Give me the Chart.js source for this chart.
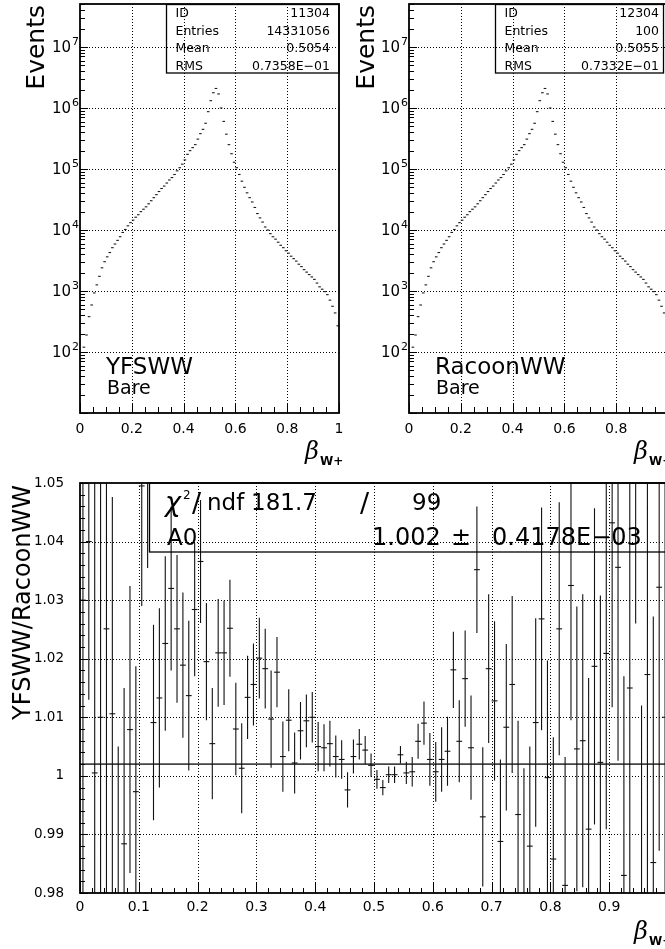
<!DOCTYPE html>
<html><head><meta charset="utf-8">
<script src="https://cdn.jsdelivr.net/npm/chart.js@4.4.1/dist/chart.umd.min.js"></script>
<style>
html,body{margin:0;padding:0;background:#fff;overflow:hidden;width:665px;height:949px;}
#wrap{position:relative;width:665px;height:949px;overflow:hidden;background:#fff;}
canvas{position:absolute;}
</style></head><body><div id="wrap">
<canvas id="c1" width="345" height="475" style="left:0;top:0;width:345px;height:475px"></canvas>
<canvas id="c2" width="345" height="475" style="left:330px;top:0;width:345px;height:475px"></canvas>
<canvas id="c3" width="675" height="474" style="left:0;top:475px;width:675px;height:474px"></canvas>
</div>
<script>
// ---------- DATA ----------
const bins = [0.005,0.015,0.025,0.035,0.045,0.055,0.065,0.075,0.085,0.095,
0.105,0.115,0.125,0.135,0.145,0.155,0.165,0.175,0.185,0.195,
0.205,0.215,0.225,0.235,0.245,0.255,0.265,0.275,0.285,0.295,
0.305,0.315,0.325,0.335,0.345,0.355,0.365,0.375,0.385,0.395,
0.405,0.415,0.425,0.435,0.445,0.455,0.465,0.475,0.485,0.495,
0.505,0.515,0.525,0.535,0.545,0.555,0.565,0.575,0.585,0.595,
0.605,0.615,0.625,0.635,0.645,0.655,0.665,0.675,0.685,0.695,
0.705,0.715,0.725,0.735,0.745,0.755,0.765,0.775,0.785,0.795,
0.805,0.815,0.825,0.835,0.845,0.855,0.865,0.875,0.885,0.895,
0.905,0.915,0.925,0.935,0.945,0.955,0.965,0.975,0.985,0.995];

const yfswwEvents = [78,120,190,380,590,930,1260,1740,2400,3020,
3630,4270,5130,5890,6760,7760,9120,10200,11700,13200,
14500,16200,17800,20000,21900,24000,26900,30200,33900,38000,
42700,47900,52500,58900,66100,72400,81300,93300,105000,120000,
141000,174000,200000,224000,251000,309000,380000,447000,562000,871000,
1320000,1780000,2090000,1700000,1000000,603000,372000,251000,178000,129000,
105000,81300,63100,50100,40700,33900,28800,23400,18600,15800,
13500,11200,10000,8710,7760,7080,6310,5620,5130,4570,
4170,3720,3390,3090,2750,2510,2240,2040,1860,1700,
1550,1350,1170,1070,977,871,708,562,437,269];

const racoonEvents = [78,120,190,380,590,930,1260,1740,2400,3020,
3630,4270,5130,5890,6760,7760,9120,10200,11700,13200,
14500,16200,17800,20000,21900,24000,26900,30200,33900,38000,
42700,47900,52500,58900,66100,72400,81300,93300,105000,120000,
141000,174000,200000,224000,251000,309000,380000,447000,562000,871000,
1320000,1780000,2090000,1700000,1000000,603000,372000,251000,178000,129000,
105000,81300,63100,50100,40700,33900,28800,23400,18600,15800,
13500,11200,10000,8710,7760,7080,6310,5620,5130,4570,
4170,3720,3390,3090,2750,2510,2240,2040,1860,1700,
1550,1350,1170,1070,977,871,708,562,437,269];

const ratioValues = [1.030,1.040,1.0005,1.0100,1.0251,1.0106,0.9750,0.9884,1.0079,0.9973,
1.0495,1.0560,1.0091,1.0133,1.0226,1.0320,1.0251,1.0189,1.0137,1.0284,
1.0366,1.0195,1.0055,1.0210,1.0210,1.0252,1.0080,1.0013,1.0134,1.0156,
1.0201,1.0183,1.0097,1.0177,1.0033,1.0095,1.0022,1.0077,1.0094,1.0100,
1.0050,1.0048,1.0055,1.0033,1.0028,0.9976,1.0033,1.0054,1.0044,1.0018,
0.9994,0.9980,1.0002,1.0002,1.0036,1.0005,1.0007,1.0059,1.0090,1.0028,
1.0007,1.0028,1.0042,1.0181,1.0059,1.0166,1.0048,1.0352,0.9930,1.0183,
1.0128,0.9888,1.0083,1.0156,0.9934,0.9780,0.9880,1.0091,1.0268,0.9997,
0.9858,1.0251,0.9813,1.0325,1.0046,1.0060,0.9909,1.0187,1.0023,1.0209,
1.0432,1.0356,0.9830,1.0150,1.0600,0.9760,1.0173,0.9852,1.0322,1.0100];

const ratioErrors = [0.070,0.027,0.060,0.050,0.050,0.037,0.030,0.0266,0.0245,0.0214,
0.0205,0.0205,0.0167,0.0153,0.0149,0.0140,0.0126,0.0124,0.0128,0.0114,
0.0105,0.0100,0.0095,0.0092,0.0089,0.0083,0.0079,0.0077,0.0071,0.0070,
0.0069,0.0068,0.0083,0.0060,0.0060,0.0053,0.0052,0.0049,0.0045,0.0043,
0.0042,0.0040,0.0039,0.0036,0.0033,0.0030,0.0029,0.0026,0.0024,0.0020,
0.0016,0.0013,0.0014,0.0014,0.0015,0.0019,0.0025,0.0030,0.0037,0.0045,
0.0051,0.0055,0.0059,0.0065,0.0070,0.0082,0.0089,0.0108,0.0119,0.0127,
0.0136,0.0140,0.0142,0.0151,0.0160,0.0233,0.0170,0.0178,0.0190,0.0200,
0.0208,0.0216,0.0219,0.0230,0.0243,0.0250,0.0258,0.0270,0.0285,0.0300,
0.0315,0.0330,0.0340,0.0360,0.0340,0.0360,0.0400,0.0420,0.0450,0.0500];

const fitA0 = 1.002;
const topXTicks = [0,0.2,0.4,0.6,0.8,1];
const logDecades = [2,3,4,5,6,7];
const statsYFSWW = [["ID","11304"],["Entries","14331056"],["Mean","0.5054"],["RMS","0.7358E\u221201"]];
const statsRacoon = [["ID","12304"],["Entries","100"],["Mean","0.5055"],["RMS","0.7332E\u221201"]];

// ---------- helpers ----------
const FF = "'DejaVu Sans', sans-serif";
Chart.defaults.font.family = FF;
Chart.defaults.color = '#000';

function txt(ctx, s, x, y, font, align, base){
  ctx.font = font; ctx.textAlign = align || 'left'; ctx.textBaseline = base || 'alphabetic';
  ctx.fillStyle = '#000'; ctx.fillText(s, x, y);
}
function rotTxt(ctx, s, x, y, font){
  ctx.save(); ctx.translate(x, y); ctx.rotate(-Math.PI/2);
  txt(ctx, s, 0, 0, font, 'right'); ctx.restore();
}
function dottedGrid(chart, xs, ys){
  const {ctx, chartArea:a, scales:{x, y}} = chart;
  ctx.save(); ctx.strokeStyle = '#000'; ctx.lineWidth = 1; ctx.setLineDash([1,2]);
  ctx.beginPath();
  xs.forEach(v => { const p = Math.round(x.getPixelForValue(v)) + 0.5; ctx.moveTo(p, a.top); ctx.lineTo(p, a.bottom); });
  ys.forEach(v => { const p = Math.round(y.getPixelForValue(v)) + 0.5; ctx.moveTo(a.left, p); ctx.lineTo(a.right, p); });
  ctx.stroke(); ctx.restore();
}
function frameTicks(chart, xt, yt){
  const {ctx, chartArea:a, scales:{x, y}} = chart;
  ctx.save(); ctx.strokeStyle = '#000'; ctx.lineWidth = 1; ctx.beginPath();
  xt.forEach(([v,len]) => { const p = Math.round(x.getPixelForValue(v)) + 0.5; ctx.moveTo(p, a.bottom); ctx.lineTo(p, a.bottom - len); });
  yt.forEach(([v,len]) => { const p = Math.round(y.getPixelForValue(v)) + 0.5; ctx.moveTo(a.left, p); ctx.lineTo(a.left + len, p); });
  ctx.stroke();
  ctx.lineWidth = 1.8;
  ctx.strokeRect(a.left, a.top, a.right - a.left, a.bottom - a.top);
  ctx.restore();
}
function fmtX(v){ if (Math.abs(v) < 1e-9) return '0'; if (Math.abs(v-1) < 1e-9) return '1'; return (Math.round(v*10)/10).toString(); }
function noPad(s){ s.paddingLeft = 0; s.paddingRight = 0; s.paddingTop = 0; s.paddingBottom = 0; }

// tick lists (axis decoration)
const topXT = []; for (let k = 0; k <= 20; k++) topXT.push([k*0.05, k % 4 === 0 ? 10 : 6]);
const logYT = []; for (let d = 1; d <= 7; d++) for (let m = 1; m <= 9; m++) { const v = m*Math.pow(10, d); if (v <= 5.07e7) logYT.push([v, m === 1 ? 8 : 5]); }
const botXT = []; for (let k = 0; k <= 50; k++) botXT.push([k*0.02, k % 5 === 0 ? 11 : 5]);
const botYT = []; for (let k = 0; k <= 35; k++) botYT.push([0.98 + k*0.002, k % 5 === 0 ? 8 : 5]);

function makeTop(id, events, stats, name, box){
  const deco = {
    id: 'deco_' + id,
    beforeDatasetsDraw(chart){
      dottedGrid(chart, [0.2,0.4,0.6,0.8], logDecades.map(d => Math.pow(10, d)));
    },
    afterDatasetsDraw(chart){
      const {ctx, chartArea:a, scales:{y}} = chart;
      frameTicks(chart, topXT, logYT);
      logDecades.forEach(d => {
        const p = y.getPixelForValue(Math.pow(10, d));
        txt(ctx, '10', a.left - 9, p + 1, '15px ' + FF, 'right', 'middle');
        txt(ctx, String(d), a.left - 8, p - 5, '11px ' + FF, 'left', 'middle');
      });
      rotTxt(ctx, 'Events', 43.5, 5, '25px ' + FF);
      ctx.save(); ctx.strokeStyle = '#000'; ctx.lineWidth = 1.3;
      ctx.strokeRect(box.l, 4.5, box.r - box.l, 68.5); ctx.restore();
      const bl = [17.3, 35.3, 52, 69.5];
      stats.forEach((r, i) => {
        txt(ctx, r[0], box.l + 9, bl[i], '12.5px ' + FF, 'left');
        txt(ctx, r[1], box.tr, bl[i], '12.5px ' + FF, 'right');
      });
      txt(ctx, name, a.left + 26, 374, '23px ' + FF, 'left');
      txt(ctx, 'Bare', a.left + 27, 394, '19px ' + FF, 'left');
      txt(ctx, '\u03B2', a.right - 34, 459, "italic 24px 'DejaVu Serif', serif", 'left');
      txt(ctx, 'W+', a.right - 19, 465, "bold 12px " + FF, 'left');
    }
  };
  return new Chart(document.getElementById(id), {
    type: 'scatter',
    data: { datasets: [{
      data: bins.map((b, i) => ({x: b, y: events[i]})),
      pointStyle: 'line', pointRadius: 1.3, pointHoverRadius: 1.3,
      pointBorderColor: '#1a1a1a', pointBorderWidth: 1.1, borderColor: '#1a1a1a', clip: 0
    }]},
    options: {
      responsive: false, animation: false, devicePixelRatio: 1,
      layout: { padding: { top: 4, right: box.padR, left: 0, bottom: 0 } },
      plugins: { legend: { display: false }, tooltip: { enabled: false } },
      scales: {
        x: { type: 'linear', min: 0, max: 1,
             grid: { display: false, drawTicks: false }, border: { display: false },
             afterBuildTicks: s => { s.ticks = topXTicks.map(v => ({value: v})); },
             ticks: { autoSkip: false, maxRotation: 0, padding: 8, font: { size: 14, family: FF }, color: '#000', callback: v => fmtX(v) },
             afterFit: s => { s.height = 62; noPad(s); } },
        y: { type: 'logarithmic', min: 10, max: 5.07e7,
             grid: { display: false, drawTicks: false }, border: { display: false },
             ticks: { display: false },
             afterFit: s => { s.width = box.axL; noPad(s); } }
      }
    },
    plugins: [deco]
  });
}

makeTop('c1', yfswwEvents, statsYFSWW, 'YFSWW', {l: 166.5, r: 339, tr: 330, padR: 6, axL: 80});
makeTop('c2', racoonEvents, statsRacoon, 'RacoonWW', {l: 165.5, r: 333.5, tr: 329, padR: 7, axL: 79});

// bottom ratio chart
const deco3 = {
  id: 'deco3',
  beforeDatasetsDraw(chart){
    dottedGrid(chart, [0.1,0.2,0.3,0.4,0.5,0.6,0.7,0.8,0.9], [0.99,1.0,1.01,1.02,1.03,1.04]);
  },
  afterDatasetsDraw(chart){
    const {ctx, chartArea:a, scales:{x, y}} = chart;
    ctx.save(); ctx.beginPath(); ctx.rect(a.left, a.top, a.right - a.left, a.bottom - a.top); ctx.clip();
    ctx.strokeStyle = '#111'; ctx.lineWidth = 1.1; ctx.beginPath();
    bins.forEach((b, i) => {
      const p = x.getPixelForValue(b);
      ctx.moveTo(p, y.getPixelForValue(ratioValues[i] + ratioErrors[i]));
      ctx.lineTo(p, y.getPixelForValue(ratioValues[i] - ratioErrors[i]));
    });
    ctx.stroke(); ctx.restore();
    frameTicks(chart, botXT, botYT);
    rotTxt(ctx, 'YFSWW/RacoonWW', 30, 10, '24px ' + FF);
    ctx.save(); ctx.strokeStyle = '#000'; ctx.lineWidth = 1.3;
    ctx.strokeRect(149.5, a.top, 700, 69); ctx.restore();
    const f = '23px ' + FF;
    txt(ctx, '\u03C7', 165, 36, 'italic 27px ' + FF);
    txt(ctx, '2', 183, 24, '12px ' + FF);
    txt(ctx, '/', 192, 37, '27px ' + FF);
    txt(ctx, 'ndf', 207, 35, f);
    txt(ctx, '181.7', 251, 35, f);
    txt(ctx, '/', 360, 37, '27px ' + FF);
    txt(ctx, '99', 412, 35, f);
    txt(ctx, 'A0', 167, 70, f);
    txt(ctx, '1.002', 372, 70, '24px ' + FF);
    txt(ctx, '\u00B1', 451, 70, '24px ' + FF);
    txt(ctx, '0.4178E\u221203', 492, 70, '24px ' + FF);
    txt(ctx, '\u03B2', 634, 464, "italic 24px 'DejaVu Serif', serif", 'left');
    txt(ctx, 'W+', 649, 470, "bold 12px " + FF, 'left');
  }
};

new Chart(document.getElementById('c3'), {
  type: 'scatter',
  data: { datasets: [
    { data: bins.map((b, i) => ({x: b, y: ratioValues[i]})),
      pointStyle: 'line', pointRadius: 2.9, pointHoverRadius: 2.9,
      pointBorderColor: '#111', pointBorderWidth: 1.1, borderColor: '#111', clip: 0 },
    { data: [{x: 0, y: fitA0}, {x: 1, y: fitA0}], showLine: true, pointRadius: 0,
      borderColor: '#444', borderWidth: 1.8, clip: 0 }
  ]},
  options: {
    responsive: false, animation: false, devicePixelRatio: 1,
    layout: { padding: { top: 8, right: 7, left: 0, bottom: 0 } },
    plugins: { legend: { display: false }, tooltip: { enabled: false } },
    scales: {
      x: { type: 'linear', min: 0, max: 1,
           grid: { display: false, drawTicks: false }, border: { display: false },
           ticks: { stepSize: 0.1, autoSkip: false, maxRotation: 0, padding: 6, font: { size: 14, family: FF }, color: '#000', callback: v => fmtX(v) },
           afterFit: s => { s.height = 56; noPad(s); } },
      y: { type: 'linear', min: 0.98, max: 1.05,
           grid: { display: false, drawTicks: false }, border: { display: false },
           ticks: { stepSize: 0.01, autoSkip: false, padding: 16, font: { size: 13.5, family: FF }, color: '#000',
                    callback: v => Math.abs(v - 1) < 1e-9 ? '1' : (Math.round(v*100)/100).toFixed(2) },
           afterFit: s => { s.width = 80; noPad(s); } }
    }
  },
  plugins: [deco3]
});
</script></body></html>
